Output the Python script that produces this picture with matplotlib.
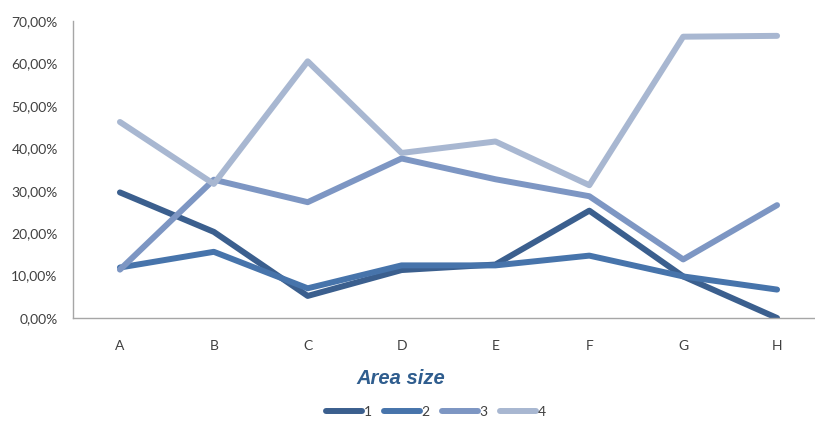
import numpy as np
import matplotlib
matplotlib.use("Agg")
import matplotlib.pyplot as plt
from matplotlib.ticker import FuncFormatter

plt.rcParams["font.family"] = ["Lato", "DejaVu Sans"]

categories = ["A", "B", "C", "D", "E", "F", "G", "H"]
series_names = ["1", "2", "3", "4"]
s1 = [29.6, 20.3, 5.2, 11.3, 12.6, 25.3, 9.8, 0.0]
s2 = [11.9, 15.6, 7.0, 12.4, 12.4, 14.7, 9.8, 6.7]
s3 = [11.4, 32.6, 27.3, 37.6, 32.7, 28.7, 13.8, 26.6]
s4 = [46.2, 31.6, 60.5, 38.9, 41.6, 31.3, 66.3, 66.5]
colors = ["#3b5f8e", "#4774ab", "#7d96c3", "#a8b7d1"]

fig = plt.figure(figsize=(8.15, 4.21), dpi=100)
ax = fig.add_axes([73 / 815, (421 - 318) / 421, (824 - 73) / 815, (318 - 21) / 421])

x = np.arange(len(categories))
for vals, name, c in zip([s1, s2, s3, s4], series_names, colors):
  ax.plot(x, vals, color=c, lw=4.3, solid_capstyle="round", solid_joinstyle="round", label=name)

ax.set_xlim(-0.5, len(categories) - 0.5)
ax.set_ylim(0, 70)
ax.set_yticks(np.arange(0, 71, 10))
ax.yaxis.set_major_formatter(FuncFormatter(lambda v, p: f"{v:.2f}".replace(".", ",") + "%"))
ax.set_xticks(x)
ax.set_xticklabels(categories)
ax.tick_params(length=0, labelsize=10, colors="#404040")
ax.tick_params(axis="y", pad=11)
ax.tick_params(axis="x", pad=16)
for side in ["top", "right"]:
  ax.spines[side].set_visible(False)
for side in ["left", "bottom"]:
  ax.spines[side].set_color("#a6a6a6")
  ax.spines[side].set_linewidth(1)

fig.text(401 / 815, (421 - 378) / 421, "Area size", ha="center", va="center",
         fontsize=14.5, fontweight="bold", fontstyle="italic", color="#2f5d8e", family="Liberation Sans")

fig.legend(loc="center", bbox_to_anchor=(436 / 815, (421 - 412) / 421), ncol=4, frameon=False,
           handlelength=2.6, handletextpad=0.1, columnspacing=0.9, fontsize=10,
           labelcolor="#404040")

fig.savefig("out.png", dpi=100)
